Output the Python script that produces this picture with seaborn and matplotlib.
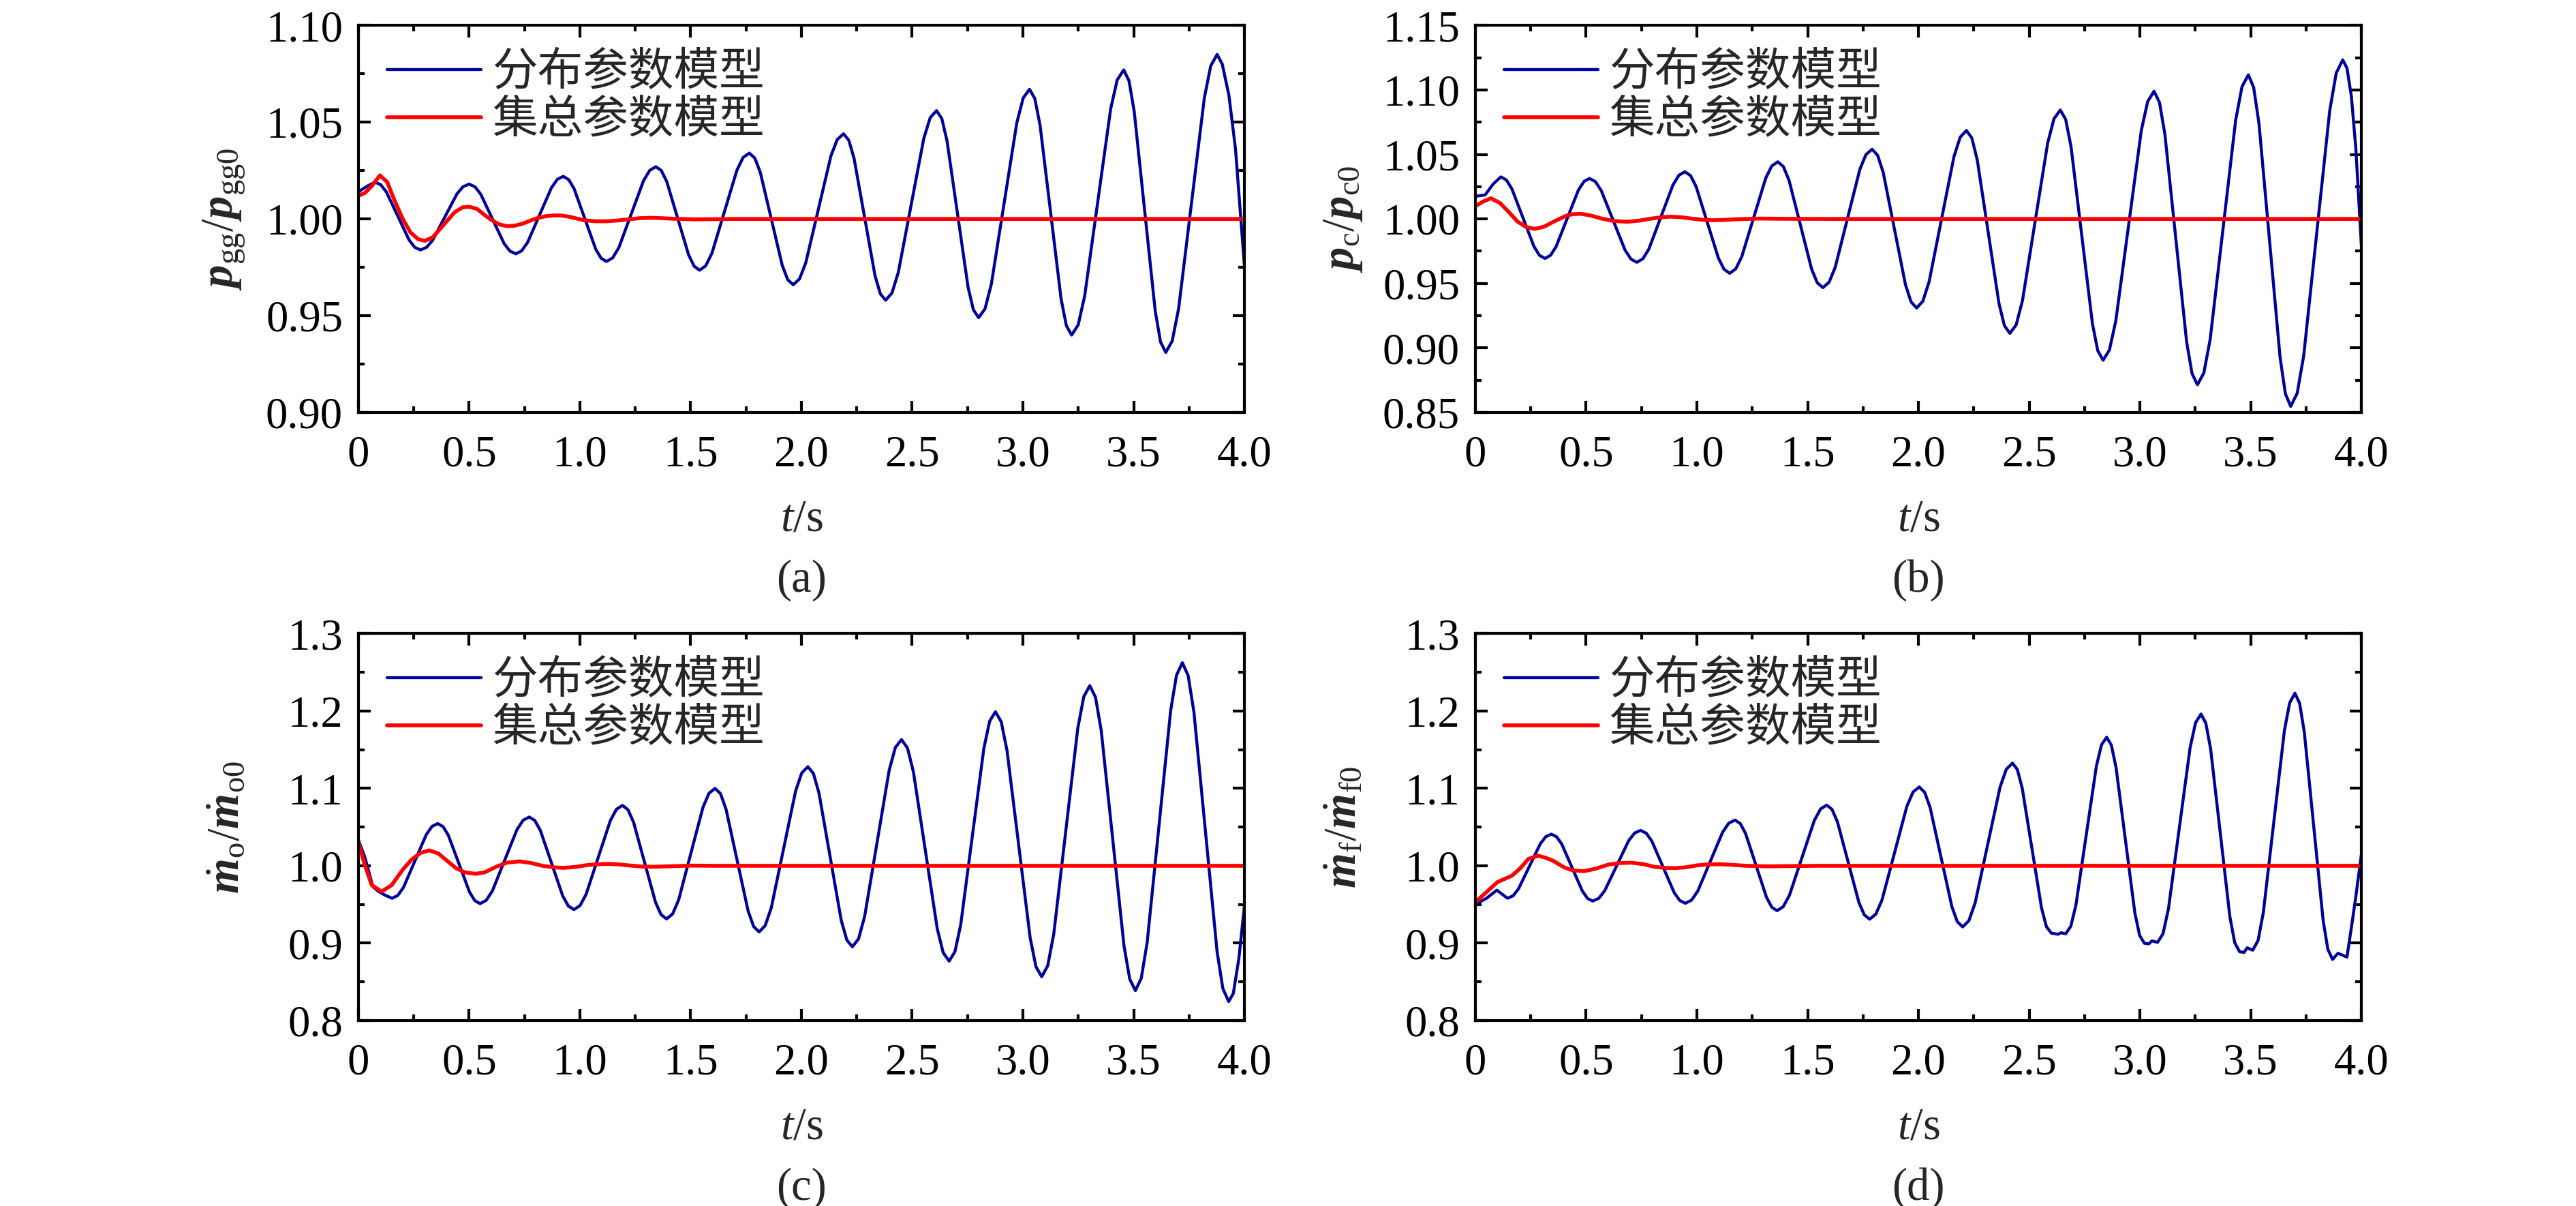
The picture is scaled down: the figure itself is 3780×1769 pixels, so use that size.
"""
Respuesta dinámica normalizada: modelo de parámetros distribuidos frente al
modelo de parámetros concentrados (cuatro paneles, 0-4 s).
"""

import matplotlib.pyplot as plt
import numpy as np
import seaborn as sns
from matplotlib.ticker import FixedLocator, MultipleLocator

# --- datos (t [s], valor normalizado) ---

pgg_dist = [
    (0, 1.014), (0.04, 1.017), (0.075, 1.019),
    (0.1006, 1.0177), (0.1263, 1.0139), (0.1775, 1.0015), (0.2288, 0.9891), (0.2544, 0.9853), (0.28, 0.984),
    (0.3075, 0.9853), (0.335, 0.989), (0.39, 1.001), (0.445, 1.013), (0.4725, 1.0167), (0.50, 1.018),
    (0.5263, 1.0166), (0.5525, 1.0127), (0.605, 1.000), (0.6575, 0.9873), (0.6838, 0.9834), (0.71, 0.982),
    (0.7369, 0.9835), (0.7638, 0.9879), (0.8175, 1.002), (0.8713, 1.0161), (0.8981, 1.0205), (0.925, 1.022),
    (0.9494, 1.0203), (0.9738, 1.0156), (1.0225, 1.000), (1.0713, 0.9844), (1.0956, 0.9797), (1.12, 0.978),
    (1.1479, 0.9799), (1.1758, 0.9852), (1.2315, 1.0025), (1.2873, 1.0198), (1.3151, 1.0251), (1.343, 1.027),
    (1.3676, 1.025), (1.3923, 1.0192), (1.4415, 1.0003), (1.4908, 0.9814), (1.5154, 0.9756), (1.54, 0.9735),
    (1.5681, 0.9758), (1.5963, 0.9824), (1.6525, 1.0038), (1.7088, 1.0252), (1.7369, 1.0318), (1.765, 1.034),
    (1.7898, 1.0314), (1.8145, 1.024), (1.864, 1.000), (1.9135, 0.976), (1.9383, 0.9686), (1.963, 0.966),
    (1.9914, 0.969), (2.0198, 0.9774), (2.0765, 1.005), (2.1333, 1.0326), (2.1616, 1.041), (2.19, 1.044),
    (2.2138, 1.0407), (2.2375, 1.0314), (2.285, 1.001), (2.3325, 0.9706), (2.3563, 0.9613), (2.38, 0.958),
    (2.4088, 0.9617), (2.4375, 0.9724), (2.495, 1.007), (2.5525, 1.0416), (2.5813, 1.0523), (2.61, 1.056),
    (2.6338, 1.0519), (2.6575, 1.0403), (2.705, 1.0025), (2.7525, 0.9647), (2.7763, 0.9531), (2.80, 0.949),
    (2.8288, 0.9535), (2.8575, 0.9663), (2.915, 1.008), (2.9725, 1.0497), (3.0013, 1.0625), (3.03, 1.067),
    (3.0538, 1.0622), (3.0775, 1.0484), (3.125, 1.0035), (3.1725, 0.9586), (3.1963, 0.9448), (3.22, 0.940),
    (3.2494, 0.9452), (3.2788, 0.9601), (3.3375, 1.0085), (3.3963, 1.0569), (3.4256, 1.0718), (3.455, 1.077),
    (3.4788, 1.0715), (3.5025, 1.0556), (3.55, 1.004), (3.5975, 0.9524), (3.6213, 0.9365), (3.645, 0.931),
    (3.674, 0.9369), (3.703, 0.9536), (3.761, 1.008), (3.819, 1.0624), (3.848, 1.0791), (3.877, 1.085),
    (3.90, 1.080), (3.93, 1.064), (3.96, 1.036), (4.0, 0.976),
]
pgg_lump = [
    (0, 1.012), (0.03, 1.0135), (0.06, 1.017), (0.097, 1.0225), (0.13, 1.019), (0.165, 1.009),
    (0.2, 1.000), (0.235, 0.993), (0.27, 0.9895), (0.30, 0.9887), (0.335, 0.9905), (0.37, 0.995),
    (0.40, 0.999), (0.435, 1.0035), (0.47, 1.006), (0.50, 1.0063), (0.535, 1.0052), (0.57, 1.002),
    (0.60, 0.9995), (0.635, 0.9972), (0.67, 0.9963), (0.70, 0.9964), (0.74, 0.9975), (0.78, 0.9993),
    (0.81, 1.0005), (0.85, 1.0015), (0.88, 1.0018), (0.914, 1.0018), (0.95, 1.0012), (0.99, 1.0001),
    (1.02, 0.9993), (1.07, 0.9988), (1.12, 0.9988), (1.17, 0.9992), (1.22, 0.9998), (1.27, 1.0004),
    (1.32, 1.0006), (1.37, 1.0004), (1.42, 1.0001), (1.52, 0.9998), (1.7, 1.0), (2.0, 1.0), (4.0, 1.0),
]

pc_dist = [
    (0, 1.0176), (0.044, 1.0186), (0.08, 1.027), (0.115, 1.0326),
    (0.1399, 1.0302), (0.1648, 1.0233), (0.2145, 1.001), (0.2643, 0.9787), (0.2891, 0.9718), (0.314, 0.9694),
    (0.3391, 0.9718), (0.3643, 0.9785), (0.4145, 1.0004), (0.4648, 1.0223), (0.4899, 1.029), (0.515, 1.0314),
    (0.5418, 1.0289), (0.5685, 1.0219), (0.622, 0.9989), (0.6755, 0.9759), (0.7023, 0.9689), (0.729, 0.9664),
    (0.7561, 0.9691), (0.7833, 0.9767), (0.8375, 1.0015), (0.8918, 1.0263), (0.9189, 1.0339), (0.946, 1.0366),
    (0.9713, 1.0336), (0.9965, 1.0251), (1.047, 0.9973), (1.0975, 0.9695), (1.1228, 0.9609), (1.148, 0.9579),
    (1.1751, 0.9612), (1.2023, 0.9706), (1.2565, 1.0011), (1.3108, 1.0316), (1.3379, 1.041), (1.365, 1.0443),
    (1.3905, 1.0406), (1.416, 1.03), (1.467, 0.9956), (1.518, 0.9611), (1.5435, 0.9505), (1.569, 0.9468),
    (1.5968, 0.9509), (1.6245, 0.9625), (1.68, 1.0004), (1.7355, 1.0383), (1.7633, 1.0499), (1.791, 1.054),
    (1.8161, 1.0493), (1.8413, 1.036), (1.8915, 0.9925), (1.9418, 0.949), (1.9669, 0.9357), (1.992, 0.931),
    (2.0201, 0.9362), (2.0483, 0.9512), (2.1045, 0.9998), (2.1608, 1.0484), (2.1889, 1.0634), (2.217, 1.0686),
    (2.2415, 1.0627), (2.266, 1.0456), (2.315, 0.99), (2.364, 0.9344), (2.3885, 0.9173), (2.413, 0.9113),
    (2.4415, 0.9179), (2.47, 0.9367), (2.527, 0.9979), (2.584, 1.059), (2.6125, 1.0778), (2.641, 1.0844),
    (2.6651, 1.0771), (2.6893, 1.056), (2.7375, 0.9875), (2.7858, 0.9189), (2.8099, 0.8979), (2.834, 0.8905),
    (2.8628, 0.8985), (2.8915, 0.9211), (2.949, 0.9948), (3.0065, 1.0685), (3.0353, 1.091), (3.064, 1.099),
    (3.0885, 1.0904), (3.113, 1.0657), (3.162, 0.9853), (3.211, 0.9049), (3.2355, 0.8802), (3.26, 0.8715),
    (3.2888, 0.8806), (3.3175, 0.9067), (3.375, 0.9916), (3.4325, 1.0765), (3.4613, 1.1026), (3.49, 1.1117),
    (3.5139, 1.1019), (3.5378, 1.074), (3.5855, 0.9832), (3.6333, 0.8924), (3.6571, 0.8645), (3.681, 0.8547),
    (3.7104, 0.8649), (3.7398, 0.894), (3.7985, 0.989), (3.8573, 1.084), (3.8866, 1.1131), (3.916, 1.1233),
    (3.935, 1.117), (3.955, 1.095), (3.975, 1.055), (4.0, 0.98),
]
pc_lump = [
    (0, 1.0099), (0.035, 1.0135), (0.07, 1.016), (0.11, 1.0125), (0.15, 1.0055), (0.19, 0.998),
    (0.23, 0.9937), (0.267, 0.9923), (0.31, 0.994), (0.36, 0.9985), (0.41, 1.0025), (0.44, 1.0037),
    (0.476, 1.004), (0.52, 1.0027), (0.57, 1.0003), (0.62, 0.9985), (0.685, 0.9978), (0.74, 0.9987),
    (0.79, 1.0002), (0.84, 1.0013), (0.88, 1.0018), (0.93, 1.0013), (0.98, 1.0002), (1.03, 0.9993),
    (1.077, 0.999), (1.13, 0.9993), (1.18, 0.9998), (1.28, 1.0003), (1.4, 1.0001), (1.6, 1.0), (4.0, 1.0),
]

mo_dist = [
    (0, 1.0333), (0.03, 1.01), (0.065, 0.973), (0.09, 0.967), (0.12, 0.962), (0.152, 0.958),
    (0.1778, 0.9617), (0.2035, 0.9722), (0.255, 1.0063), (0.3065, 1.0404), (0.3323, 1.0509), (0.358, 1.0545),
    (0.3819, 1.0506), (0.4058, 1.0394), (0.4535, 1.0028), (0.5013, 0.9662), (0.5251, 0.955), (0.549, 0.951),
    (0.5768, 0.9553), (0.6045, 0.9674), (0.66, 1.007), (0.7155, 1.0466), (0.7433, 1.0587), (0.771, 1.063),
    (0.7963, 1.0585), (0.8215, 1.0455), (0.872, 1.0032), (0.9225, 0.9609), (0.9478, 0.9479), (0.973, 0.9434),
    (1.0004, 0.9485), (1.0278, 0.9631), (1.0825, 1.0107), (1.1373, 1.0583), (1.1646, 1.0729), (1.192, 1.078),
    (1.2169, 1.0724), (1.2418, 1.0565), (1.2915, 1.0047), (1.3413, 0.9528), (1.3661, 0.9369), (1.391, 0.9313),
    (1.4184, 0.9377), (1.4458, 0.956), (1.5005, 1.0157), (1.5553, 1.0753), (1.5826, 1.0936), (1.61, 1.100),
    (1.6349, 1.093), (1.6598, 1.0729), (1.7095, 1.0073), (1.7593, 0.9417), (1.7841, 0.9216), (1.809, 0.9145),
    (1.8365, 0.9227), (1.864, 0.9458), (1.919, 1.0213), (1.974, 1.0968), (2.0015, 1.1199), (2.029, 1.128),
    (2.0541, 1.1192), (2.0793, 1.094), (2.1295, 1.0117), (2.1798, 0.9294), (2.2049, 0.9042), (2.23, 0.8953),
    (2.2578, 0.9055), (2.2855, 0.9346), (2.341, 1.0292), (2.3965, 1.1238), (2.4243, 1.1529), (2.452, 1.163),
    (2.4789, 1.1521), (2.5058, 1.1211), (2.5595, 1.0199), (2.6133, 0.9187), (2.6401, 0.8877), (2.667, 0.8768),
    (2.6931, 0.889), (2.7193, 0.924), (2.7715, 1.0379), (2.8238, 1.1518), (2.8499, 1.1868), (2.876, 1.199),
    (2.9021, 1.186), (2.9283, 1.1488), (2.9805, 1.0278), (3.0328, 0.9068), (3.0589, 0.8696), (3.085, 0.8566),
    (3.1121, 0.8709), (3.1393, 0.9118), (3.1935, 1.0447), (3.2478, 1.1776), (3.2749, 1.2185), (3.302, 1.2327),
    (3.3278, 1.2177), (3.3535, 1.175), (3.405, 1.0357), (3.4565, 0.8964), (3.4823, 0.8537), (3.508, 0.8387),
    (3.5345, 0.8548), (3.561, 0.9008), (3.614, 1.0505), (3.667, 1.2002), (3.6935, 1.2462), (3.72, 1.2623),
    (3.7461, 1.2457), (3.7723, 1.1982), (3.8245, 1.0435), (3.8768, 0.8888), (3.9029, 0.8413), (3.929, 0.8246),
    (3.95, 0.835), (3.975, 0.88), (4.0, 0.9475),
]
mo_lump = [
    (0, 1.03), (0.03, 1.0), (0.06, 0.975), (0.105, 0.9667), (0.15, 0.975), (0.2, 0.995), (0.24, 1.008),
    (0.28, 1.0165), (0.319, 1.0199), (0.36, 1.016), (0.40, 1.0065), (0.44, 0.997), (0.48, 0.9915),
    (0.528, 0.9896), (0.57, 0.9915), (0.62, 0.9985), (0.67, 1.004), (0.727, 1.0057), (0.78, 1.0035),
    (0.83, 1.0), (0.88, 0.998), (0.928, 0.9973), (0.98, 0.9985), (1.03, 1.0008), (1.08, 1.002),
    (1.129, 1.0024), (1.18, 1.0017), (1.23, 1.0002), (1.28, 0.999), (1.333, 0.9987), (1.4, 0.9993),
    (1.5, 1.0002), (1.6, 1.0), (4.0, 1.0),
]

mf_dist = [
    (0, 0.950), (0.05, 0.958), (0.097, 0.9685), (0.145, 0.958),
    (0.1698, 0.9611), (0.1945, 0.9701), (0.244, 0.9994), (0.2935, 1.0287), (0.3183, 1.0377), (0.343, 1.0408),
    (0.3664, 1.0375), (0.3898, 1.0281), (0.4365, 0.9976), (0.4833, 0.9671), (0.5066, 0.9577), (0.53, 0.9544),
    (0.557, 0.9579), (0.584, 0.9678), (0.638, 1.0001), (0.692, 1.0324), (0.719, 1.0423), (0.746, 1.0457),
    (0.7713, 1.0421), (0.7965, 1.0319), (0.847, 0.9986), (0.8975, 0.9653), (0.9228, 0.9551), (0.948, 0.9515),
    (0.976, 0.9556), (1.004, 0.9673), (1.06, 1.0053), (1.116, 1.0433), (1.144, 1.055), (1.172, 1.059),
    (1.1958, 1.0546), (1.2195, 1.0419), (1.267, 1.0005), (1.3145, 0.9591), (1.3383, 0.9464), (1.362, 0.942),
    (1.39, 0.9472), (1.418, 0.962), (1.474, 1.0102), (1.53, 1.0584), (1.558, 1.0732), (1.586, 1.0784),
    (1.6103, 1.0728), (1.6345, 1.0568), (1.683, 1.0047), (1.7315, 0.9526), (1.7558, 0.9366), (1.78, 0.931),
    (1.808, 0.9375), (1.836, 0.956), (1.892, 1.0164), (1.948, 1.0768), (1.976, 1.0953), (2.004, 1.1018),
    (2.0285, 1.0949), (2.053, 1.0753), (2.102, 1.0114), (2.151, 0.9475), (2.1755, 0.9279), (2.20, 0.921),
    (2.2281, 0.929), (2.2563, 0.952), (2.3125, 1.0268), (2.3688, 1.1016), (2.3969, 1.1246), (2.425, 1.1326),
    (2.4469, 1.1243), (2.4688, 1.1004), (2.5125, 1.0228), (2.5563, 0.9452), (2.5781, 0.9213), (2.60, 0.913),
    (2.63, 0.9115), (2.645, 0.9135), (2.665, 0.912),
    (2.6881, 0.9217), (2.7113, 0.9492), (2.7575, 1.039), (2.8038, 1.1288), (2.8269, 1.1563), (2.85, 1.166),
    (2.8713, 1.1559), (2.8925, 1.127), (2.935, 1.033), (2.9775, 0.939), (2.9988, 0.9101), (3.02, 0.900),
    (3.04, 0.899), (3.055, 0.903), (3.08, 0.901),
    (3.1045, 0.9122), (3.129, 0.9442), (3.178, 1.0485), (3.227, 1.1528), (3.2515, 1.1848), (3.276, 1.196),
    (3.2978, 1.1843), (3.3195, 1.151), (3.363, 1.0425), (3.4065, 0.934), (3.4283, 0.9007), (3.45, 0.889),
    (3.47, 0.888), (3.485, 0.894), (3.50, 0.892), (3.51, 0.891),
    (3.5338, 0.9036), (3.5575, 0.9396), (3.605, 1.057), (3.6525, 1.1744), (3.6763, 1.2104), (3.70, 1.223),
    (3.7213, 1.2099), (3.7425, 1.1726), (3.785, 1.051), (3.8275, 0.9294), (3.8488, 0.8921), (3.87, 0.879),
    (3.895, 0.887), (3.935, 0.882), (3.955, 0.92), (3.975, 0.96), (4.0, 1.014),
]
mf_lump = [
    (0, 0.953), (0.05, 0.966), (0.1, 0.979), (0.164, 0.987), (0.2, 0.996), (0.24, 1.009), (0.284, 1.013),
    (0.32, 1.010), (0.35, 1.0066), (0.40, 0.998), (0.44, 0.994), (0.49, 0.993), (0.54, 0.996),
    (0.60, 1.0015), (0.65, 1.0035), (0.705, 1.004), (0.76, 1.002), (0.81, 0.9985), (0.86, 0.9972),
    (0.90, 0.997), (0.95, 0.998), (1.0, 1.0005), (1.05, 1.0018), (1.10, 1.002), (1.16, 1.0012),
    (1.22, 1.0), (1.32, 0.9993), (1.42, 0.9996), (1.55, 1.0), (4.0, 1.0),
]

# etiquetas y ejes
nombres_series = ["分布参数模型", "集总参数模型"]
xticks = [0, 0.5, 1.0, 1.5, 2.0, 2.5, 3.0, 3.5, 4.0]
xtick_labels = ["0", "0.5", "1.0", "1.5", "2.0", "2.5", "3.0", "3.5", "4.0"]
yticks_a = [0.90, 0.95, 1.00, 1.05, 1.10]
yticks_b = [0.85, 0.90, 0.95, 1.00, 1.05, 1.10, 1.15]
yticks_cd = [0.8, 0.9, 1.0, 1.1, 1.2, 1.3]
ylabels = [
    r"$\mathbfit{p}_{\mathrm{gg}}/\mathbfit{p}_{\mathrm{gg0}}$",
    r"$\mathbfit{p}_{\mathrm{c}}/\mathbfit{p}_{\mathrm{c0}}$",
    r"$\dot{\mathbfit{m}}_{\mathrm{o}}/\dot{\mathbfit{m}}_{\mathrm{o0}}$",
    r"$\dot{\mathbfit{m}}_{\mathrm{f}}/\dot{\mathbfit{m}}_{\mathrm{f0}}$",
]
subtitulos = ["(a)", "(b)", "(c)", "(d)"]

AZUL = "#00009a"
ROJO = "#ff0000"
FUENTES = ["Liberation Serif", "Noto Sans CJK SC"]


def configurar_estilo() -> None:
    sns.set_theme(style="ticks")
    plt.rcParams["font.family"] = FUENTES
    plt.rcParams["mathtext.fontset"] = "custom"
    plt.rcParams["mathtext.rm"] = "Liberation Serif"
    plt.rcParams["mathtext.it"] = "Liberation Serif:italic"
    plt.rcParams["mathtext.bf"] = "Liberation Serif:bold"
    plt.rcParams["mathtext.bfit"] = "Liberation Serif:bold:italic"
    plt.rcParams["axes.linewidth"] = 1.0
    plt.rcParams["axes.edgecolor"] = "black"


def panel(ax, dist, lump, yticks, ydec, ylabel):
    d = np.array(dist)
    l = np.array(lump)
    sns.lineplot(x=d[:, 0], y=d[:, 1], ax=ax, color=AZUL, lw=1.05,
                 label=nombres_series[0], estimator=None, sort=False)
    sns.lineplot(x=l[:, 0], y=l[:, 1], ax=ax, color=ROJO, lw=1.35,
                 label=nombres_series[1], estimator=None, sort=False)
    ax.set_xlim(0, 4)
    ax.set_ylim(yticks[0], yticks[-1])
    ax.xaxis.set_major_locator(FixedLocator(xticks))
    ax.set_xticklabels(xtick_labels)
    ax.xaxis.set_minor_locator(MultipleLocator(0.25))
    ax.yaxis.set_major_locator(FixedLocator(yticks))
    ax.set_yticklabels([f"{v:.{ydec}f}" for v in yticks])
    paso = yticks[1] - yticks[0]
    ax.yaxis.set_minor_locator(MultipleLocator(paso / 2))
    ax.tick_params(which="both", direction="in", top=True, right=True,
                   width=1.0, colors="black", labelsize=15.5)
    ax.tick_params(which="major", length=4.2)
    ax.tick_params(which="minor", length=2.1)
    ax.tick_params(axis="x", pad=8)
    ax.tick_params(axis="y", pad=5.5)
    for s in ax.spines.values():
        s.set_linewidth(1.0)
        s.set_color("black")
    ax.set_xlabel(r"$t$/s", fontsize=16, labelpad=8)
    ax.set_ylabel(ylabel, fontsize=16)
    ax.yaxis.set_label_coords(-0.125, 0.5)
    ax.legend(loc="upper left", bbox_to_anchor=(0.032, 0.93), frameon=False,
              handlelength=2.07, handletextpad=0.25, labelspacing=0.12,
              borderaxespad=0, borderpad=0,
              prop={"family": FUENTES, "size": 16})


def main() -> None:
    configurar_estilo()
    fig = plt.figure(figsize=(12.6, 5.8967), dpi=300)
    izq = [0.13915, 0.57275]
    ancho = 0.34392
    abajo = [0.65800, 0.15376]
    alto = 0.3209
    series = [
        (pgg_dist, pgg_lump, yticks_a, 2),
        (pc_dist, pc_lump, yticks_b, 2),
        (mo_dist, mo_lump, yticks_cd, 1),
        (mf_dist, mf_lump, yticks_cd, 1),
    ]
    y_sub = [0.5189, 0.0147]
    for i, (dist, lump, yt, dec) in enumerate(series):
        fila, col = divmod(i, 2)
        ax = fig.add_axes([izq[col], abajo[fila], ancho, alto])
        panel(ax, dist, lump, yt, dec, ylabels[i])
        fig.text(izq[col] + ancho / 2, y_sub[fila], subtitulos[i],
                 ha="center", va="center", fontsize=16)
    fig.savefig("out.png", dpi=300, facecolor="white")
    plt.close(fig)


if __name__ == "__main__":
    main()
